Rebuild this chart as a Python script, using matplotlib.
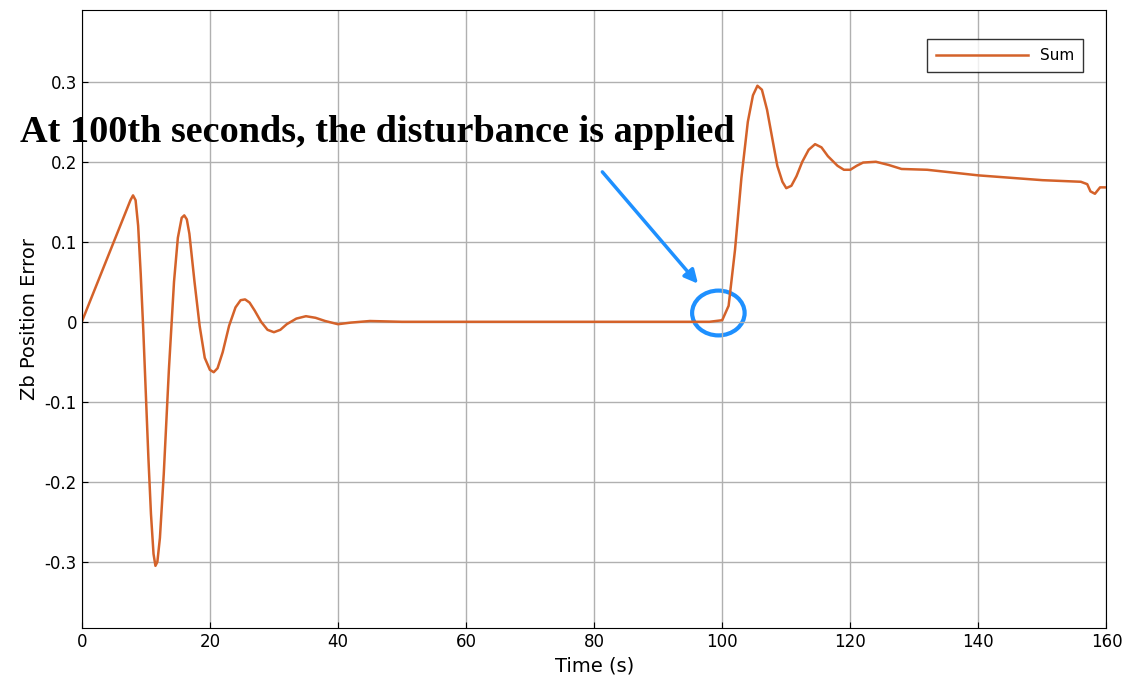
import matplotlib.pyplot as plt
from matplotlib.patches import Ellipse

# values
time_s = [0, 2, 4, 6, 7, 7.6, 8, 8.4, 8.8, 9.2, 9.6, 10, 10.4, 10.8, 11.2, 11.5, 11.8, 12.2,
          12.8, 13.6, 14.4, 15, 15.6, 16, 16.4, 16.8, 17.6, 18.4, 19.2, 20, 20.6, 21.2, 22,
          23, 24, 24.8, 25.5, 26.2, 27, 28, 29, 30, 31, 32, 33.5, 35, 36.5, 38, 40, 42, 45,
          50, 60, 70, 80, 90, 98, 100, 101, 102, 103, 104, 104.8, 105.5, 106.2, 107, 107.8,
          108.6, 109.4, 110, 110.8, 111.6, 112.5, 113.5, 114.5, 115.5, 116.5, 118, 119, 120,
          121, 122, 124, 126, 128, 132, 140, 150, 156, 157, 157.5, 158.2, 159, 160]
zb_error = [0, 0.04, 0.08, 0.12, 0.14, 0.152, 0.158, 0.152, 0.12, 0.06, -0.01, -0.09,
            -0.17, -0.24, -0.29, -0.305, -0.3, -0.27, -0.19, -0.06, 0.05, 0.105, 0.13,
            0.133, 0.128, 0.11, 0.05, -0.005, -0.045, -0.06, -0.063, -0.058, -0.038, -0.005,
            0.018, 0.027, 0.028, 0.024, 0.014, 0.0, -0.01, -0.013, -0.01, -0.003, 0.004,
            0.007, 0.005, 0.001, -0.003, -0.001, 0.001, 0, 0, 0, 0, 0, 0, 0.002, 0.02, 0.09,
            0.18, 0.25, 0.283, 0.295, 0.29, 0.265, 0.23, 0.195, 0.175, 0.167, 0.17, 0.182,
            0.2, 0.215, 0.222, 0.218, 0.207, 0.195, 0.19, 0.19, 0.195, 0.199, 0.2, 0.196,
            0.191, 0.19, 0.183, 0.177, 0.175, 0.172, 0.163, 0.16, 0.168, 0.168]

fig = plt.figure(figsize=(11.36, 6.95), dpi=100)
ax = fig.add_axes([0.072, 0.096, 0.902, 0.89])

ax.plot(time_s, zb_error, color='#d4622a', linewidth=1.8, label='Sum')

ax.set_xlim(0, 160)
ax.set_ylim(-0.383, 0.39)
ax.set_xticks(range(0, 161, 20))
ax.set_yticks([-0.3, -0.2, -0.1, 0, 0.1, 0.2, 0.3])
ax.set_yticklabels(['-0.3', '-0.2', '-0.1', '0', '0.1', '0.2', '0.3'])
ax.tick_params(labelsize=12, direction='in', length=4)
ax.grid(True, color='#b0b0b0', linewidth=1)
ax.set_xlabel('Time (s)', fontsize=14)
ax.set_ylabel('Zb Position Error', fontsize=14)

ax.legend(loc='upper right', fontsize=11, fancybox=False, edgecolor='black',
          handlelength=6, borderpad=0.6, bbox_to_anchor=(0.985, 0.965))

ax.text(-9.7, 0.225, 'At 100th seconds, the disturbance is applied',
        family='Liberation Serif', fontweight='bold', fontsize=27.5, clip_on=False)
ax.annotate('', xy=(96.5, 0.045), xytext=(81, 0.19),
            arrowprops=dict(arrowstyle='-|>', color='#1e90ff', lw=2.5, mutation_scale=20))
ax.add_patch(Ellipse((99.4, 0.011), 8.2, 0.056, fill=False, edgecolor='#1e90ff', lw=3))

fig.savefig('out.png')
